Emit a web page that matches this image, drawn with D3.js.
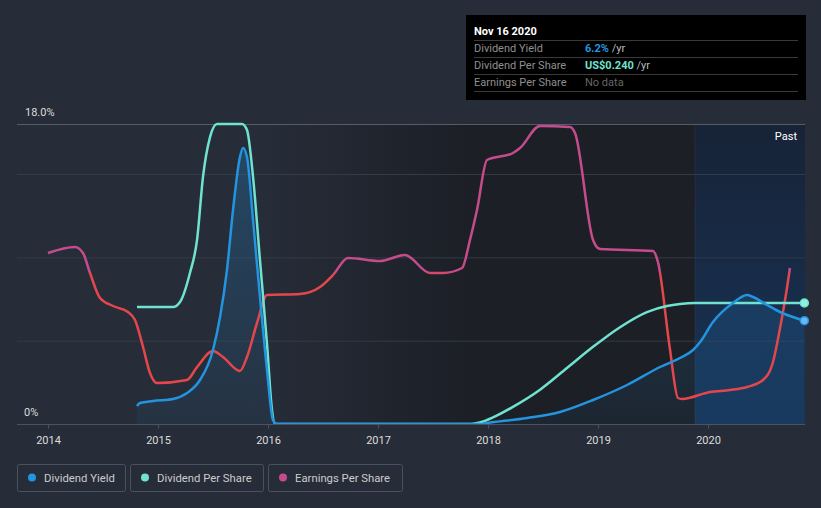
<!DOCTYPE html>
<html><head><meta charset="utf-8">
<script src="https://cdn.jsdelivr.net/npm/d3@7"></script>
<style>
html,body{margin:0;padding:0;background:#262c38;}
svg{display:block;font-family:Roboto,"Noto Sans",sans-serif;}
</style></head>
<body><svg id="c" width="821" height="508"></svg>
<script>
// ---- data ----
const yieldYears = [2014.809,2014.836,2014.955,2015.136,2015.264,2015.382,2015.5,2015.564,2015.627,2015.682,2015.745,2015.773,2015.809,2015.864,2015.927,2015.991,2016.045,2016.082,2017.0,2017.927,2017.991,2018.355,2018.655,2018.955,2019.264,2019.564,2019.745,2019.864,2019.927,2020.045,2020.227,2020.355,2020.409,2020.536,2020.655,2020.876];
const yieldValues = [1.08,1.26,1.38,1.5,1.86,2.64,4.44,6.42,9.24,12.84,16.02,16.56,16.02,12.24,7.62,3.24,0.24,0,0,0,0.06,0.36,0.72,1.44,2.34,3.42,3.96,4.44,4.9,6.12,7.26,7.74,7.62,7.14,6.72,6.2];

const dpsYears = [2014.809,2015.136,2015.2,2015.291,2015.355,2015.409,2015.473,2015.536,2015.764,2015.809,2015.864,2015.927,2015.991,2016.036,2016.064,2017.0,2017.85,2017.927,2018.045,2018.227,2018.473,2018.718,2018.955,2019.2,2019.445,2019.627,2019.745,2019.882,2020.876];
const dpsValues = [0.232,0.232,0.242,0.300,0.365,0.490,0.569,0.595,0.595,0.583,0.490,0.325,0.159,0.028,0,0,0,0.003,0.013,0.034,0.068,0.111,0.153,0.192,0.222,0.234,0.238,0.240,0.240];

const epsYears = [2014.0,2014.245,2014.318,2014.382,2014.473,2014.591,2014.727,2014.791,2014.864,2014.927,2014.991,2015.264,2015.355,2015.5,2015.591,2015.745,2015.809,2015.9,2015.991,2016.291,2016.473,2016.591,2016.727,2017.018,2017.245,2017.473,2017.591,2017.764,2017.836,2017.9,2017.991,2018.227,2018.291,2018.473,2018.745,2018.791,2018.955,2019.018,2019.5,2019.545,2019.655,2019.727,2019.764,2020.018,2020.2,2020.355,2020.5,2020.591,2020.655,2020.718,2020.745];
const epsValues = [0.20,0.26,0.20,0.00,-0.25,-0.33,-0.39,-0.47,-0.74,-1.00,-1.10,-1.07,-0.94,-0.78,-0.84,-0.98,-0.84,-0.50,-0.22,-0.21,-0.14,-0.02,0.15,0.12,0.18,0.00,0.00,0.05,0.33,0.63,1.13,1.20,1.25,1.47,1.46,1.40,0.33,0.24,0.22,0.11,-0.77,-1.25,-1.26,-1.19,-1.17,-1.14,-1.07,-0.89,-0.55,-0.15,0.05];

const yearTicks = [2014,2015,2016,2017,2018,2019,2020];
const yieldGridTicks = [0,5,10,15,18];
const legendLabels = ["Dividend Yield","Dividend Per Share","Earnings Per Share"];
const tooltipDate = "Nov 16 2020";
const tooltipRows = [["Dividend Yield","6.2%"," /yr"],["Dividend Per Share","US$0.240"," /yr"],["Earnings Per Share","No data",""]];

// ---- setup ----
const C = {yield:"#2394df", dps:"#6fe3cf", epsPos:"#c64b8d", epsNeg:"#e4474b"};
const svg = d3.select("#c");
const L = 17, R = 805, T = 124, B = 424;
const x = d3.scaleLinear().domain([2014, 2021]).range([48, 818]);
const yY = d3.scaleLinear().domain([0, 18]).range([B, T]);
const yD = d3.scaleLinear().domain([0, 0.595]).range([B, T]);
const yE = d3.scaleLinear().domain([-1.51, 1.49]).range([B, T]);
const pastStart = 2019.882;

const defs = svg.append("defs");
const gDark = defs.append("linearGradient").attr("id","gdark").attr("gradientUnits","userSpaceOnUse")
  .attr("x1",x(2016)).attr("x2",x(2017.8)).attr("y1",0).attr("y2",0);
gDark.append("stop").attr("offset",0).attr("stop-color","#1c1f26").attr("stop-opacity",0);
gDark.append("stop").attr("offset",1).attr("stop-color","#1c1f26").attr("stop-opacity",1);
const gPast = defs.append("linearGradient").attr("id","gpast").attr("x1",0).attr("x2",0).attr("y1",0).attr("y2",1);
gPast.append("stop").attr("offset",0).attr("stop-color","#172337");
gPast.append("stop").attr("offset",1).attr("stop-color","#183457");
const gArea = defs.append("linearGradient").attr("id","garea").attr("gradientUnits","userSpaceOnUse")
  .attr("x1",0).attr("x2",0).attr("y1",T).attr("y2",B);
gArea.append("stop").attr("offset",0).attr("stop-color",C.yield).attr("stop-opacity",0.28);
gArea.append("stop").attr("offset",1).attr("stop-color",C.yield).attr("stop-opacity",0.06);
const zOff = (yE(0)-T)/(B-T);
const gEps = defs.append("linearGradient").attr("id","geps").attr("gradientUnits","userSpaceOnUse")
  .attr("x1",0).attr("x2",0).attr("y1",T).attr("y2",B);
gEps.append("stop").attr("offset",zOff).attr("stop-color",C.epsPos);
gEps.append("stop").attr("offset",zOff).attr("stop-color",C.epsNeg);
defs.append("clipPath").attr("id","clip").append("rect").attr("x",L).attr("y",T-5).attr("width",R-L).attr("height",B-T+5);

// backgrounds
svg.append("rect").attr("x",x(2016)).attr("y",T).attr("width",x(pastStart)-x(2016)).attr("height",B-T).attr("fill","url(#gdark)");
svg.append("rect").attr("x",x(pastStart)).attr("y",T).attr("width",R-x(pastStart)).attr("height",B-T).attr("fill","url(#gpast)");
svg.append("line").attr("x1",x(pastStart)).attr("x2",x(pastStart)).attr("y1",T).attr("y2",B).attr("stroke","#ffffff").attr("stroke-opacity",0.05);

// grid
svg.append("g").selectAll("line").data(yieldGridTicks).join("line")
  .attr("x1",L).attr("x2",R).attr("y1",d=>yY(d)+0.5).attr("y2",d=>yY(d)+0.5)
  .attr("stroke",d=>d===18?"#555c6a":(d===0?"#4b5260":"#343a46")).attr("stroke-width",1);

// y labels
svg.append("text").attr("x",25).attr("y",yY(18)-8).text("18.0%").attr("fill","#dddddd").attr("font-size",11);
svg.append("text").attr("x",24).attr("y",yY(0)-8).text("0%").attr("fill","#dddddd").attr("font-size",11);

// x axis
const xa = svg.append("g").attr("transform",`translate(0,${B+0.5})`)
  .call(d3.axisBottom(x).tickValues(yearTicks).tickFormat(d3.format("d")).tickSize(4).tickPadding(8));
xa.select(".domain").remove();
xa.selectAll(".tick line").attr("stroke","#4b5260");
xa.selectAll(".tick text").attr("fill","#dddddd").attr("font-size",11).attr("font-family","Roboto,sans-serif");

// series
const plot = svg.append("g").attr("clip-path","url(#clip)");
const yieldData = yieldYears.map((t,i)=>[t,yieldValues[i]]);
const dpsData = dpsYears.map((t,i)=>[t,dpsValues[i]]);
const epsData = epsYears.map((t,i)=>[t,epsValues[i]]);
plot.append("path").datum(yieldData).attr("fill","url(#garea)")
  .attr("d", d3.area().x(d=>x(d[0])).y0(B).y1(d=>yY(d[1])).curve(d3.curveMonotoneX));
plot.append("path").datum(epsData).attr("fill","none").attr("stroke","url(#geps)").attr("stroke-width",2.5)
  .attr("d", d3.line().x(d=>x(d[0])).y(d=>yE(d[1])).curve(d3.curveMonotoneX));
plot.append("path").datum(dpsData).attr("fill","none").attr("stroke",C.dps).attr("stroke-width",2.5)
  .attr("d", d3.line().x(d=>x(d[0])).y(d=>yD(d[1])).curve(d3.curveMonotoneX));
plot.append("path").datum(yieldData).attr("fill","none").attr("stroke",C.yield).attr("stroke-width",2.5)
  .attr("d", d3.line().x(d=>x(d[0])).y(d=>yY(d[1])).curve(d3.curveMonotoneX));

// end dots
const lastD = dpsData[dpsData.length-1], lastY = yieldData[yieldData.length-1];
svg.append("circle").attr("cx",x(lastD[0])).attr("cy",yD(lastD[1])).attr("r",4).attr("fill","#8ff0e0").attr("stroke",C.dps).attr("stroke-width",1.5);
svg.append("circle").attr("cx",x(lastY[0])).attr("cy",yY(lastY[1])).attr("r",4).attr("fill","#6ab8f0").attr("stroke",C.yield).attr("stroke-width",1.5);

svg.append("text").attr("x",797).attr("y",140).attr("text-anchor","end").text("Past").attr("fill","#ffffff").attr("font-size",11);

// tooltip
const tt = svg.append("g");
tt.append("rect").attr("x",466).attr("y",15).attr("width",340).attr("height",85).attr("fill","#000000");
tt.append("text").attr("x",474).attr("y",35).text(tooltipDate).attr("fill","#ffffff").attr("font-size",11).attr("font-weight","bold");
const rowColors = [C.yield, C.dps, "#666666"];
tooltipRows.forEach((r,i)=>{
  const by = 40 + i*17;
  tt.append("line").attr("x1",474).attr("x2",798).attr("y1",by+0.5).attr("y2",by+0.5).attr("stroke","#3a3a3a");
  tt.append("text").attr("x",474).attr("y",by+12).text(r[0]).attr("fill","#8f8f8f").attr("font-size",11);
  const t = tt.append("text").attr("x",585).attr("y",by+12).attr("font-size",11);
  t.append("tspan").text(r[1]).attr("fill",rowColors[i]).attr("font-weight",i<2?"bold":"normal");
  t.append("tspan").text(r[2]).attr("fill","#bbbbbb");
});
tt.append("line").attr("x1",474).attr("x2",798).attr("y1",91.5).attr("y2",91.5).attr("stroke","#3a3a3a");

// legend
const legendX = [17,130,268], legendW = [108,133,134];
const legendC = [C.yield, C.dps, C.epsPos];
legendLabels.forEach((lab,i)=>{
  const g = svg.append("g").attr("transform",`translate(${legendX[i]},464)`);
  g.append("rect").attr("x",0.5).attr("y",0.5).attr("width",legendW[i]).attr("height",27).attr("rx",2)
    .attr("fill","none").attr("stroke","#4a5160");
  g.append("circle").attr("cx",15).attr("cy",13.5).attr("r",4).attr("fill",legendC[i]);
  g.append("text").attr("x",27).attr("y",17.5).text(lab).attr("fill","#cccccc").attr("font-size",11.3);
});
</script></body></html>
